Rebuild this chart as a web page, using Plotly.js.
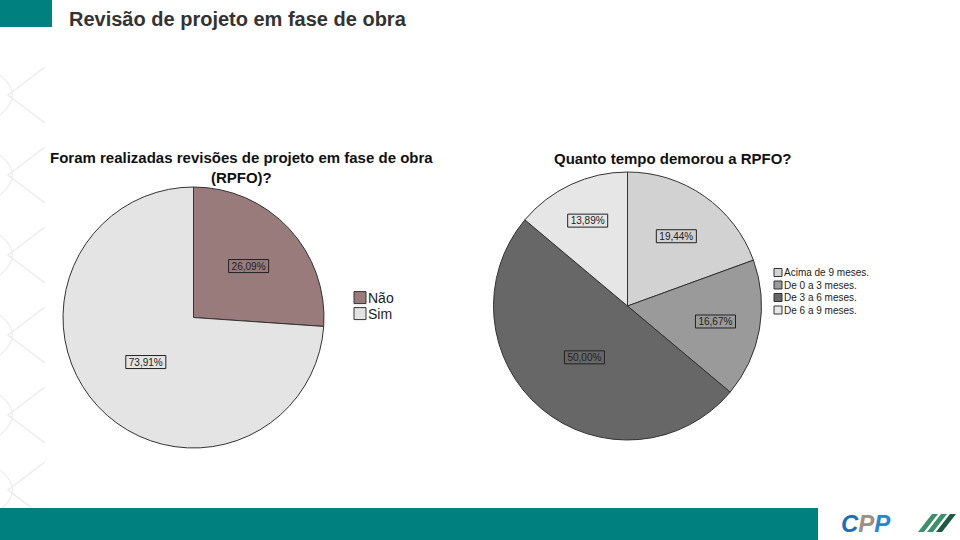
<!DOCTYPE html>
<html>
<head>
<meta charset="utf-8">
<script src="https://cdn.plot.ly/plotly-3.0.1.min.js"></script>
<style>
  body { margin: 0; background: #fff; }
  #chart { width: 960px; height: 540px; }
</style>
</head>
<body>
<div id="chart"></div>
<script>
// left pie: were project revisions done during construction?
var leftLabels = ['Não', 'Sim'];
var leftValues = [26.09, 73.91];
var leftColors = ['#9a7b7c', '#e4e4e4'];

// right pie: how long did the revision take
var rightLabels = ['Acima de 9 meses.', 'De 0 a 3 meses.', 'De 3 a 6 meses.', 'De 6 a 9 meses.'];
var rightValues = [19.44, 16.67, 50.00, 13.89];
var rightColors = ['#d2d2d2', '#9a9a9a', '#676767', '#e6e6e6'];

var W = 960, H = 540;
function px(x) { return x / W; }
function py(y) { return (H - y) / H; }

var font = 'Arial, "Liberation Sans", sans-serif';

var leftPie = {
  type: 'pie',
  labels: leftLabels,
  values: leftValues,
  sort: false,
  direction: 'clockwise',
  rotation: 0,
  marker: { colors: leftColors, line: { color: '#333', width: 1 } },
  texttemplate: '%{percent:.2%}',
  textposition: 'inside',
  insidetextorientation: 'horizontal',
  textfont: { family: font, size: 10, color: '#222' },
  domain: { x: [px(62), px(325)], y: [py(448), py(187)] },
  legend: 'legend',
  hoverinfo: 'none'
};

var rightPie = {
  type: 'pie',
  labels: rightLabels,
  values: rightValues,
  sort: false,
  direction: 'clockwise',
  rotation: 0,
  marker: { colors: rightColors, line: { color: '#333', width: 1 } },
  texttemplate: '%{percent:.2%}',
  textposition: 'inside',
  insidetextorientation: 'horizontal',
  textfont: { family: font, size: 10, color: '#222' },
  domain: { x: [px(493), px(762)], y: [py(440), py(172)] },
  legend: 'legend2',
  hoverinfo: 'none'
};

// faint chevron pattern down the left edge of the slide
var shapes = [];
[95, 175, 255, 335, 415, 490].forEach(function(y) {
  shapes.push({
    type: 'path', xref: 'paper', yref: 'paper',
    path: 'M' + px(45) + ',' + py(y - 28) + ' L' + px(8) + ',' + py(y) + ' L' + px(45) + ',' + py(y + 28),
    line: { color: '#ececec', width: 1.5 }
  });
  shapes.push({
    type: 'path', xref: 'paper', yref: 'paper',
    path: 'M' + px(0) + ',' + py(y - 20) + ' Q' + px(25) + ',' + py(y) + ' ' + px(0) + ',' + py(y + 20),
    line: { color: '#efefef', width: 1.5 }
  });
});

// teal blocks
shapes.push({ type: 'rect', xref: 'paper', yref: 'paper', x0: 0, x1: px(52), y0: py(27), y1: 1,
  fillcolor: '#00807f', line: { width: 0 } });
shapes.push({ type: 'rect', xref: 'paper', yref: 'paper', x0: 0, x1: px(818), y0: 0, y1: py(508),
  fillcolor: '#00807f', line: { width: 0 } });

// green logo stripes
[0, 1, 2].forEach(function(i) {
  var x = 918 + i * 9;
  shapes.push({
    type: 'path', xref: 'paper', yref: 'paper',
    path: 'M' + px(x) + ',' + py(532) + ' L' + px(x + 14) + ',' + py(514) + ' L' + px(x + 20) + ',' + py(514) +
          ' L' + px(x + 6) + ',' + py(532) + ' Z',
    fillcolor: i === 2 ? '#1d5a43' : '#3f8f6d', line: { width: 0 }
  });
});

var layout = {
  width: W,
  height: H,
  margin: { l: 0, r: 0, t: 0, b: 0 },
  paper_bgcolor: '#ffffff',
  separators: ',.',
  font: { family: font, color: '#222' },
  showlegend: true,
  legend: {
    x: px(340), y: py(282), xanchor: 'left', yanchor: 'top',
    font: { family: font, size: 14, color: '#222' },
    bgcolor: 'rgba(0,0,0,0)'
  },
  legend2: {
    x: px(758), y: py(258), xanchor: 'left', yanchor: 'top',
    font: { family: font, size: 10, color: '#222' },
    bgcolor: 'rgba(0,0,0,0)'
  },
  shapes: shapes,
  annotations: [
    {
      text: 'Revisão de projeto em fase de obra',
      xref: 'paper', yref: 'paper', x: px(67), y: py(19),
      xanchor: 'left', yanchor: 'middle', showarrow: false,
      font: { family: font, size: 20, color: '#333', weight: 'bold' }
    },
    {
      text: 'Foram realizadas revisões de projeto em fase de obra<br>(RPFO)?',
      xref: 'paper', yref: 'paper', x: px(241), y: py(167),
      xanchor: 'center', yanchor: 'middle', showarrow: false,
      font: { family: font, size: 15, color: '#111', weight: 'bold' }
    },
    {
      text: 'Quanto tempo demorou a RPFO?',
      xref: 'paper', yref: 'paper', x: px(673), y: py(159),
      xanchor: 'center', yanchor: 'middle', showarrow: false,
      font: { family: font, size: 15, color: '#111', weight: 'bold' }
    },
    {
      text: '<span style="color:#1f6fb6">C</span><span style="color:#9b8f86">P</span><span style="color:#2a86c7">P</span>',
      xref: 'paper', yref: 'paper', x: px(866), y: py(523),
      xanchor: 'center', yanchor: 'middle', showarrow: false,
      font: { family: font, size: 24, weight: 'bold', style: 'italic' }
    }
  ]
};

// tighten a legend the way SPSS draws it: closer rows, text next to swatch.
// the whole row slides left and the swatch is pushed back right by the same amount
function tightenLegend(gd, name, rowGap, half) {
  var items = gd.querySelectorAll('g.' + name + ' g.traces');
  var y0 = null;
  items.forEach(function(g, i) {
    var m = /translate\(([^,]+),\s*([^)]+)\)/.exec(g.getAttribute('transform') || '');
    if (!m) return;
    var x = parseFloat(m[1]), y = parseFloat(m[2]);
    if (y0 === null) y0 = y;
    var sw = g.querySelector('.legendpoints path');
    var t = g.querySelector('text.legendtext') || g.querySelector('text');
    var gap = 0;
    if (sw) sw.setAttribute('d', 'M' + half + ',' + half + 'V-' + half + 'H-' + half + 'V' + half + 'Z');
    if (sw && t) {
      gap = t.getBoundingClientRect().left - sw.getBoundingClientRect().right - 2;
      if (!isFinite(gap)) gap = 0;
      sw.setAttribute('d', 'M' + (gap + half) + ',' + half + 'V-' + half + 'H' + (gap - half) + 'V' + half + 'Z');
    }
    g.setAttribute('transform', 'translate(' + (x - gap) + ',' + (y0 + i * rowGap) + ')');
  });
}

Plotly.newPlot('chart', [leftPie, rightPie], layout, { staticPlot: true }).then(function(gd) {
  // SPSS-style outlined boxes around the percentage labels
  gd.querySelectorAll('g.slice text.slicetext').forEach(function(t) {
    var b = t.getBBox();
    var r = document.createElementNS('http://www.w3.org/2000/svg', 'rect');
    r.setAttribute('x', b.x - 3);
    r.setAttribute('y', b.y - 1);
    r.setAttribute('width', b.width + 6);
    r.setAttribute('height', b.height + 2);
    r.setAttribute('fill', 'none');
    r.setAttribute('stroke', '#222');
    r.setAttribute('stroke-width', 1);
    if (t.getAttribute('transform')) r.setAttribute('transform', t.getAttribute('transform'));
    t.parentNode.insertBefore(r, t);
  });
  tightenLegend(gd, 'legend', 16, 6);
  tightenLegend(gd, 'legend2', 12.5, 4);
});
</script>
</body>
</html>
